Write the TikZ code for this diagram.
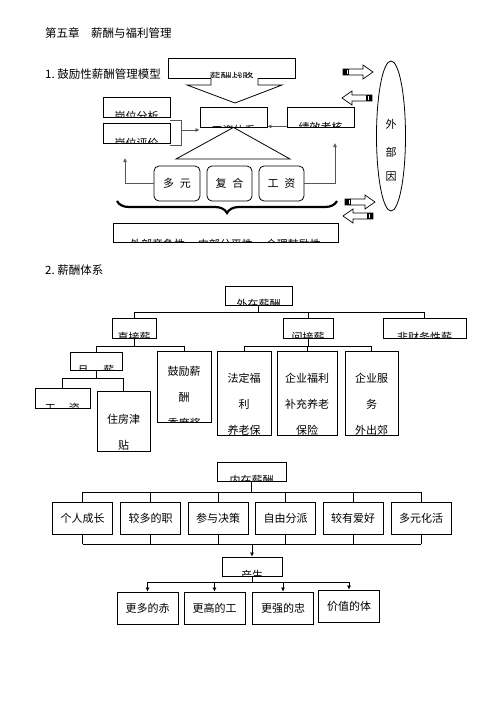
\documentclass[tikz,border=0pt]{standalone}
\usepackage{fontspec}
\setmainfont{Noto Sans CJK SC}
\usetikzlibrary{arrows.meta,decorations.pathreplacing}
\definecolor{linkGray}{HTML}{555555}
\newcommand\headfont{\fontsize{11.5}{13}\selectfont}
\newcommand\boxfont{\fontsize{11}{13}\selectfont}
\newcommand\stackfont{\fontsize{11}{26}\selectfont}

\begin{document}
\begin{tikzpicture}[x=1pt, y=-1pt,
  heading/.style={anchor=west, inner sep=0pt, font=\headfont},
  box/.style={draw, line width=0.8pt, inner sep=0pt, font=\boxfont},
  cutbox/.style 2 args={draw, line width=0.8pt, inner sep=0pt,
    path picture={\node[font=\boxfont] at ([yshift=#2]path picture bounding box.south) {#1};}},
  stackbox/.style={draw, line width=0.8pt, inner sep=0pt,
    path picture={\node[font=\stackfont, align=center, anchor=north, inner sep=0pt]
      at ([yshift=-10.5pt]path picture bounding box.north) {#1};}},
  roundbox/.style={draw, rounded corners=5pt, line width=0.8pt, minimum height=35pt, font=\boxfont},
  tree/.style={line width=0.7pt},
  link/.style={draw=linkGray, line width=0.7pt},
  tip/.style={-{Latex[length=4pt,width=4pt]}}
]
  % Page
  \fill[white] (0,0) rectangle (496,702);

  % Headings
  \node[heading] (chapter) at (45,33) {第五章　薪酬与福利管理};
  \node[heading] (secOne) at (45,74) {1.\ 鼓励性薪酬管理模型};

  % Model: strategy and pay scheme
  \node[cutbox={薪酬战略}{0.5pt}, minimum width=127pt, minimum height=20pt] (strategy) at (231.5,68) {};
  \draw[line width=0.8pt, fill=white] (211,78) -- (211,85) -- (187,85) -- (235,103)
    -- (282,85) -- (258,85) -- (258,78);
  \node[cutbox={岗位分析}{0.5pt}, minimum width=67pt, minimum height=20pt] (jobAnalysis) at (136.5,107) {};
  \node[cutbox={岗位评价}{0pt}, minimum width=67pt, minimum height=20pt] (jobEval) at (136.5,133) {};
  \node[cutbox={工资体系}{-3pt}, minimum width=67pt, minimum height=20pt] (payScheme) at (233.5,117) {};
  \node[cutbox={绩效考核}{0pt}, minimum width=67pt, minimum height=20pt] (perfReview) at (320.5,117) {};

  % Bracket and arrows into the pay scheme
  \draw[link] ([yshift=-3pt]jobAnalysis.south east) -| ([xshift=11pt, yshift=-2pt]jobEval.south east)
    -- ([yshift=-2pt]jobEval.south east);
  \coordinate (brkMid) at (181,130);
  \draw[link, tip] (brkMid) -- (brkMid -| payScheme.west);
  \coordinate (perfIn) at ([yshift=1pt]perfReview.south west);
  \draw[link, tip] (perfIn) -- (perfIn -| payScheme.east);

  % Triangle and pay forms
  \draw[line width=0.8pt] (payScheme.south) -- (176,159) -- (290,159) -- cycle;
  \node[roundbox, minimum width=46pt] (multi) at (177,183.5) {多\hspace{6pt}元};
  \node[roundbox, minimum width=45pt] (compound) at (229.5,183.5) {复\hspace{6pt}合};
  \node[roundbox, minimum width=45pt] (wage) at (281.5,183.5) {工\hspace{6pt}资};
  \coordinate (leftEnd) at (125,158);
  \coordinate (rightEnd) at (335,143);
  \draw[link, tip] (multi.west) -| (leftEnd);
  \draw[link, tip] (wage.east) -| (rightEnd);

  % Brace and principles
  \draw[line width=2.2pt, decorate, decoration={brace, mirror, amplitude=12pt}] (117,201) -- (337,201);
  \node[cutbox={外部竞争性\hspace{13pt}内部公平性\hspace{13pt}合理鼓励性}{-2.5pt},
    minimum width=225pt, minimum height=19pt] (principles) at (225.5,232.5) {};

  % External factors
  \draw[line width=0.8pt] (391,136) ellipse [x radius=14.5pt, y radius=75pt];
  \node[font=\boxfont] (extA) at (391,124) {外};
  \node[font=\boxfont] (extB) at (391,152) {部};
  \node[font=\boxfont] (extC) at (391,177) {因};
  \foreach \ax/\ay/\adir in {343/72/1, 372/98/-1, 345/202/1, 373/216/-1}{
    \begin{scope}[shift={(\ax,\ay)}, xscale=\adir]
      \draw[line width=0.7pt, fill=white] (0,-3) -- (20,-3) -- (20,-7) -- (30,0)
        -- (20,7) -- (20,3) -- (0,3) -- cycle;
      \fill (0,-3) rectangle (6,3);
      \draw[white, line width=0.6pt] (4,-2) -- (4,2);
    \end{scope}
  }

  % Pay system: external pay
  \node[heading] (secTwo) at (45,270) {2.\ 薪酬体系};
  \node[cutbox={外在薪酬}{0.5pt}, minimum width=67pt, minimum height=19pt] (extPay) at (258.5,295.5) {};
  \node[cutbox={直接薪}{0.5pt}, minimum width=44pt, minimum height=20pt] (directPay) at (134,328) {};
  \node[cutbox={间接薪}{0.5pt}, minimum width=50pt, minimum height=20pt] (indirectPay) at (308,328) {};
  \node[cutbox={非财务性薪}{0.5pt}, minimum width=83pt, minimum height=20pt] (nonCash) at (424.5,328) {};
  \node[cutbox={月\hspace{15pt}薪}{0pt}, minimum width=52pt, minimum height=18pt] (monthly) at (96,361) {};
  \node[stackbox={鼓励薪\\酬\\季度奖}, minimum width=54pt, minimum height=71pt] (bonus) at (184,386.5) {};
  \node[stackbox={法定福\\利\\养老保}, minimum width=54pt, minimum height=84pt] (statutory) at (244,393) {};
  \node[stackbox={企业福利\\补充养老\\保险}, minimum width=60pt, minimum height=84pt] (corpWelfare) at (307,393) {};
  \node[stackbox={企业服\\务\\外出郊}, minimum width=53pt, minimum height=84pt] (corpService) at (371.5,393) {};
  \node[cutbox={工\hspace{13pt}资}{0pt}, minimum width=55pt, minimum height=20pt] (basicWage) at (62.5,398) {};
  \node[stackbox={住房津\\贴}, minimum width=53pt, minimum height=60pt] (housing) at (123.5,421) {};

  \draw[tree] (extPay.south) -- ++(0,7) coordinate (extBar);
  \foreach \kid in {directPay, indirectPay, nonCash} \draw[tree] (extBar) -| (\kid.north);
  \draw[tree] (directPay.south) -- ++(0,8) coordinate (directBar);
  \foreach \kid in {monthly, bonus} \draw[tree] (directBar) -| (\kid.north);
  \draw[tree] (indirectPay.south) -- ++(0,8) coordinate (indirectBar);
  \foreach \kid in {statutory, corpWelfare, corpService} \draw[tree] (indirectBar) -| (\kid.north);
  \draw[tree] (monthly.south) -- ++(0,8) coordinate (monthlyBar);
  \foreach \kid in {basicWage, housing} \draw[tree] (monthlyBar) -| (\kid.north);

  % Pay system: internal pay
  \node[cutbox={内在薪酬}{0.5pt}, minimum width=69pt, minimum height=19pt] (intPay) at (251.5,471.5) {};
  \foreach \name/\cx/\txt in {growth/82.5/个人成长, duties/150.5/较多的职, decide/218/参与决策,
      freedom/285.5/自由分派, hobby/353/较有爱好, variety/421/多元化活}
    \node[box, minimum width=60pt, minimum height=32pt] (\name) at (\cx,518) {\txt};
  \draw[tree] (intPay.south) -- ++(0,11) coordinate (intBar);
  \foreach \name in {growth, duties, decide, freedom, hobby, variety} \draw[tree] (intBar) -| (\name.north);

  \node[cutbox={产生}{0.5pt}, minimum width=60pt, minimum height=19pt] (produce) at (252,566.5) {};
  \coordinate (joinBar) at (252,544);
  \foreach \name in {growth, duties, decide, freedom, hobby, variety} \draw[tree] (\name.south) -- (\name.south |- joinBar);
  \draw[tree] (growth.south |- joinBar) -- (variety.south |- joinBar);
  \draw[tree, tip] (joinBar) -- (produce.north);

  \foreach \name/\cx/\cy/\txt in {moreZeal/147.5/608/更多的赤, higherWork/214.5/608/更高的工,
      loyalty/283/608/更强的忠, worth/349/606/价值的体}
    \node[box, minimum width=61pt, minimum height=32pt] (\name) at (\cx,\cy) {\txt};
  \draw[tree] (produce.south) -- ++(0,6) coordinate (prodBar);
  \foreach \name in {moreZeal, higherWork, loyalty, worth} \draw[tree, tip] (prodBar) -| (\name.north);
\end{tikzpicture}
\end{document}
